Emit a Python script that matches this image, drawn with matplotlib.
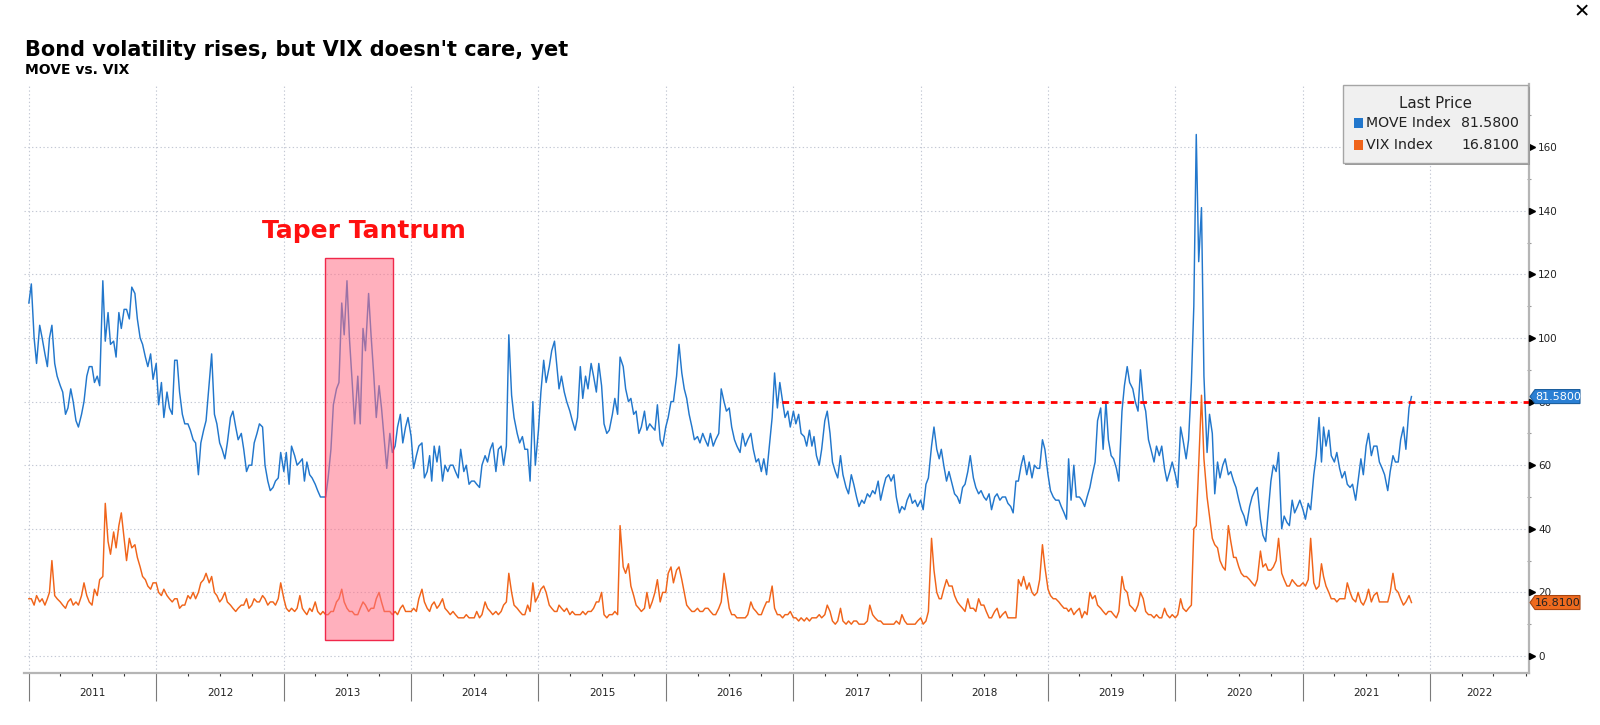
import numpy as np
import pandas as pd
import matplotlib
matplotlib.use("Agg")
import matplotlib.pyplot as plt
import matplotlib.dates as mdates
import matplotlib.transforms as mtransforms
from matplotlib.patches import Rectangle, Polygon

# ---------------- text ----------------
title = "Bond volatility rises, but VIX doesn't care, yet"
subtitle = "MOVE vs. VIX"
series_names = ["MOVE Index", "VIX Index"]
legend_title = "Last Price"
annotation_text = "Taper Tantrum"
taper_start, taper_end = "2013-04-28", "2013-11-10"
taper_low, taper_high = 5, 125
annotation_pos = ("2013-08-20", 133.5)
ref_level = 80
ref_start = "2016-11-30"
years = list(range(2011, 2023))
y_ticks = [0, 20, 40, 60, 80, 100, 120, 140, 160]

# ---------------- data (4 readings per month) ----------------
move_2011 = [111,117,100,92, 104,100,95,91, 100,104,92,88, 85,83,76,78, 84,80,74,72, 76,80,88,91,
             91,86,88,85, 118,99,108,98, 99,94,108,103, 109,109,106,116, 114,106,100,98, 94,91,95,87]
move_2012 = [92,79,86,75, 83,78,76,93, 93,83,76,73, 73,71,68,67, 57,67,71,74, 86,95,76,73,
             67,65,62,67, 75,77,72,68, 70,65,58,60, 60,67,70,73, 72,60,55,52, 53,55,56,64]
move_2013 = [58,64,54,66, 63,60,61,62, 55,61,57,56, 54,52,50,50, 50,56,65,79, 84,86,111,101,
             118,100,86,73, 88,73,103,96, 114,101,88,75, 85,78,68,59, 70,64,66,72, 76,67,72,75]
move_2014 = [69,59,63,66, 67,56,58,63, 55,66,61,66, 55,60,58,60, 60,58,56,65, 58,60,54,55,
             55,54,53,60, 63,61,65,67, 58,65,66,60, 66,101,82,75, 70,67,69,65, 65,55,80,60]
move_2015 = [71,83,93,86, 91,96,99,91, 84,88,83,80, 77,74,71,75, 91,81,88,84, 92,88,83,92,
             85,73,70,71, 76,81,76,94, 91,84,80,81, 76,77,70,72, 77,71,73,72, 71,79,68,66]
move_2016 = [72,75,80,80, 88,98,89,84, 81,76,72,68, 69,67,70,68, 66,70,66,68, 70,84,80,77,
             78,72,68,66, 64,70,66,68, 70,65,61,62, 58,62,57,65, 75,89,78,86, 80,75,77,72]
move_2017 = [77,73,76,70, 69,66,71,66, 69,63,60,65, 74,77,70,61, 58,56,63,57, 53,51,57,54,
             50,47,49,48, 51,50,52,51, 55,49,53,56, 57,55,57,50, 45,47,46,49, 51,48,49,47]
move_2018 = [49,46,54,56, 66,72,65,62, 65,60,55,58, 54,51,50,48, 53,54,58,63, 56,53,51,52,
             50,49,51,46, 50,51,49,50, 50,48,47,45, 55,55,60,63, 57,61,56,60, 59,59,68,65]
move_2019 = [57,52,50,49, 49,47,45,43, 62,49,60,50, 50,49,47,50, 53,57,61,74, 78,65,80,68,
             63,62,59,55, 77,85,91,86, 84,80,77,90, 80,77,68,65, 61,66,63,66, 59,55,58,61]
move_2020 = [57,53,72,68, 62,68,86,110, 164,124,141,88, 64,76,70,51, 61,56,60,62, 57,58,55,53,
             49,46,44,41, 47,50,52,53, 43,38,36,45, 55,60,58,64, 40,44,42,41, 49,45,47,49]
move_2021 = [46,43,48,46, 57,63,75,61, 72,66,71,63, 61,64,59,56, 58,54,53,54, 49,55,62,57,
             66,70,63,66, 66,61,59,57, 52,58,63,61, 61,68,72,65, 78,81.58]

vix_2011 = [18,18,16,19, 17,18,16,18, 20,30,19,18, 17,16,15,17, 18,16,17,16, 19,23,19,17,
            16,21,19,24, 25,48,36,32, 39,34,41,45, 37,30,37,34, 35,31,28,25, 24,22,21,23]
vix_2012 = [23,20,19,21, 19,18,17,18, 18,15,16,16, 19,18,20,18, 20,23,24,26, 23,25,20,19,
            17,18,20,17, 16,15,14,15, 16,16,18,15, 16,18,17,17, 19,18,16,17, 17,16,18,23]
vix_2013 = [18,15,14,15, 14,15,19,15, 14,13,15,14, 17,14,13,14, 13,13,14,14, 17,18,21,17,
            15,14,14,13, 13,15,17,16, 14,15,15,18, 20,17,14,14, 14,13,14,13, 15,16,14,14]
vix_2014 = [14,15,14,18, 21,17,15,14, 16,17,15,16, 18,15,14,13, 14,13,12,12, 12,13,12,12,
            12,14,12,13, 17,15,14,13, 14,13,14,16, 17,26,20,16, 15,14,13,13, 16,14,23,17]
vix_2015 = [19,21,22,20, 16,15,14,14, 16,15,14,15, 13,14,13,13, 13,14,13,14, 14,15,17,17,
            20,13,12,13, 13,14,13,41, 28,26,29,22, 19,16,15,14, 15,20,15,17, 20,24,17,20]
vix_2016 = [20,26,28,23, 27,28,24,20, 16,15,14,14, 15,14,14,15, 15,14,13,13, 15,17,26,21,
            15,13,13,12, 12,12,12,13, 17,15,14,13, 13,15,17,17, 22,15,13,13, 12,13,13,14]
vix_2017 = [12,12,11,12, 11,12,11,12, 12,12,13,12, 13,16,14,11, 10,11,15,11, 10,11,10,11,
            11,10,10,10, 11,16,13,12, 11,11,10,10, 10,10,10,11, 10,13,11,10, 10,10,10,11]
vix_2018 = [12,10,11,14, 37,27,20,18, 18,21,24,22, 22,19,17,16, 15,14,18,15, 15,14,18,16,
            16,14,12,12, 14,15,12,13, 14,12,12,12, 12,24,22,25, 21,23,20,19, 20,24,35,28]
vix_2019 = [21,19,18,18, 17,16,15,15, 14,15,13,14, 15,12,14,13, 20,18,19,16, 15,14,13,14,
            14,13,12,14, 25,21,20,16, 15,14,16,20, 18,14,13,13, 12,13,12,12, 15,13,12,13]
vix_2020 = [12,13,18,15, 14,15,16,40, 41,60,82,62, 50,44,37,35, 34,30,28,27, 41,36,31,31,
            28,26,25,25, 24,23,22,24, 33,28,29,27, 27,28,30,37, 26,24,22,22, 24,23,22,22]
vix_2021 = [23,22,24,37, 23,21,22,29, 25,22,20,18, 18,17,18,18, 18,23,20,18, 17,20,17,16,
            18,21,17,19, 20,17,17,17, 17,20,26,21, 20,18,16,17, 19,16.81]

move = (move_2011 + move_2012 + move_2013 + move_2014 + move_2015 + move_2016 +
        move_2017 + move_2018 + move_2019 + move_2020 + move_2021)
vix = (vix_2011 + vix_2012 + vix_2013 + vix_2014 + vix_2015 + vix_2016 +
       vix_2017 + vix_2018 + vix_2019 + vix_2020 + vix_2021)

sample_days = [1, 8, 16, 23]
months = pd.date_range("2011-01-01", "2021-11-01", freq="MS")
dates = [m + pd.Timedelta(days=d - 1) for m in months for d in sample_days][:len(move)]

# ---------------- style ----------------
BLUE = "#2277cc"
ORANGE = "#f0641a"
GRID = "#c3c8d4"
AXIS = "#b5b5b5"
plt.rcParams["font.family"] = ["DejaVu Sans"]

W, H = 1600, 725
fig = plt.figure(figsize=(W / 100, H / 100), dpi=100)
fig.patch.set_facecolor("white")
ax = fig.add_axes([24 / W, 1 - 673 / H, (1529 - 24) / W, (673 - 83.6) / H])

xmin, xmax = pd.Timestamp("2010-12-18"), pd.Timestamp("2022-10-11")
ax.set_xlim(xmin, xmax)
ax.set_ylim(-5.35, 180)

ax.plot(dates, move, color=BLUE, lw=1.05, zorder=2)
ax.plot(dates, vix, color=ORANGE, lw=1.05, zorder=2)

# taper tantrum box
x0 = mdates.date2num(pd.Timestamp(taper_start))
x1 = mdates.date2num(pd.Timestamp(taper_end))
ax.add_patch(Rectangle((x0, taper_low), x1 - x0, taper_high - taper_low,
                       facecolor="#ff6f87", alpha=0.55, edgecolor="none", zorder=3))
ax.add_patch(Rectangle((x0, taper_low), x1 - x0, taper_high - taper_low,
                       facecolor="none", edgecolor="#f0284a", lw=1.0, zorder=3.1))
ax.text(pd.Timestamp(annotation_pos[0]), annotation_pos[1], annotation_text,
        color="#ff1010", fontsize=18, fontweight="bold", ha="center", va="center", zorder=4)

# reference dashed line
ax.plot([pd.Timestamp(ref_start), xmax], [ref_level, ref_level], color="#ff0000",
        lw=2.0, dashes=(2.4, 2.2), zorder=4, dash_capstyle="butt", clip_on=False)

# axes styling
for s in ["top", "left"]:
    ax.spines[s].set_visible(False)
for s in ["right", "bottom"]:
    ax.spines[s].set_color(AXIS)
    ax.spines[s].set_linewidth(1.6)

ax.yaxis.tick_right()
ax.set_yticks(y_ticks)
ax.set_yticklabels([str(v) for v in y_ticks])
ax.set_yticks(np.arange(10, 171, 20), minor=True)
ax.tick_params(axis="y", which="major", length=0, pad=6.5, labelsize=7.5, labelcolor="#222222")
ax.tick_params(axis="y", which="minor", length=3, width=0.8, color="#9a9a9a", direction="inout")

ax.xaxis.set_major_locator(mdates.YearLocator())
ax.xaxis.set_minor_locator(mdates.MonthLocator(bymonth=[4, 7, 10]))
ax.tick_params(axis="x", which="major", length=20, width=0.8, color="#7a7a7a", labelbottom=False)
ax.tick_params(axis="x", which="minor", length=2.2, width=0.8, color="#333333")

ax.grid(which="major", axis="both", color=GRID, lw=0.8, ls=(0, (1.2, 2.2)))
ax.set_axisbelow(True)

# triangle tick markers
tri_trans = (mtransforms.blended_transform_factory(ax.transAxes, ax.transData) +
             mtransforms.ScaledTranslation(2.5 / 100, 0, fig.dpi_scale_trans))
ax.plot([1] * len(y_ticks), y_ticks, ls="none", marker=">", ms=3.8, color="black",
        transform=tri_trans, clip_on=False, zorder=5)

# year labels
lab_trans = mtransforms.blended_transform_factory(ax.transData, ax.transAxes)
for y in years:
    a = max(pd.Timestamp(f"{y}-01-01"), xmin)
    b = min(pd.Timestamp(f"{y + 1}-01-01"), xmax)
    mid = a + (b - a) / 2
    ax.text(mid, -20 / 589.4, str(y), transform=lab_trans, ha="center", va="center",
            fontsize=7.5, color="#222222")

# value tags on right axis
def tag(value, face, edge, tcolor):
    px, py = ax.transData.transform((mdates.date2num(xmax), value))
    verts = [(px + 1, py), (px + 6, py + 7), (px + 51, py + 7),
             (px + 51, py - 7), (px + 6, py - 7)]
    fig.add_artist(Polygon(verts, closed=True, facecolor=face, edgecolor=edge, lw=0.8,
                           transform=mtransforms.IdentityTransform(), zorder=6))
    fig.text((px + 29) / W, py / H, f"{value:.4f}", ha="center", va="center",
             fontsize=8, color=tcolor, zorder=7)

tag(move[-1], "#2a7fd4", "#1b5e9e", "white")
tag(vix[-1], "#ee6a1e", "#a84510", "#222222")

# legend box
lx0, ly0, lx1, ly1 = 1343, 85, 1528, 163
fig.add_artist(Rectangle(((lx0 + 2) / W, 1 - (ly1 + 2) / H), (lx1 - lx0) / W, (ly1 - ly0) / H,
                         transform=fig.transFigure, facecolor="#9a9a9a", edgecolor="none", zorder=8))
fig.add_artist(Rectangle((lx0 / W, 1 - ly1 / H), (lx1 - lx0) / W, (ly1 - ly0) / H,
                         transform=fig.transFigure, facecolor="#f0f0f0", edgecolor="#a5a5a5",
                         lw=1.0, zorder=9))
fig.text(1435 / W, 1 - 104 / H, legend_title, ha="center", va="center", fontsize=10.8,
         color="#222222", zorder=10)
for i, (name, col, val) in enumerate(zip(series_names, [BLUE, ORANGE], [move[-1], vix[-1]])):
    yc = 123 + i * 22
    fig.add_artist(Rectangle((1353.5 / W, 1 - (yc + 4.7) / H), 9.4 / W, 9.4 / H,
                             transform=fig.transFigure, facecolor=col, edgecolor="none", zorder=10))
    fig.text(1366 / W, 1 - yc / H, name, ha="left", va="center", fontsize=10.2,
             color="#222222", zorder=10)
    fig.text(1519 / W, 1 - yc / H, f"{val:.4f}", ha="right", va="center", fontsize=10.2,
             color="#222222", zorder=10)

# titles
fig.text(25 / W, 1 - 56 / H, title, ha="left", va="baseline", fontsize=15,
         fontweight="bold", color="black")
fig.text(25 / W, 1 - 74 / H, subtitle, ha="left", va="baseline", fontsize=10,
         fontweight="bold", color="black")
fig.text(1582 / W, 1 - 12 / H, "\u2715", ha="center", va="center", fontsize=14, color="black")

fig.savefig("out.png", dpi=100, facecolor="white")
